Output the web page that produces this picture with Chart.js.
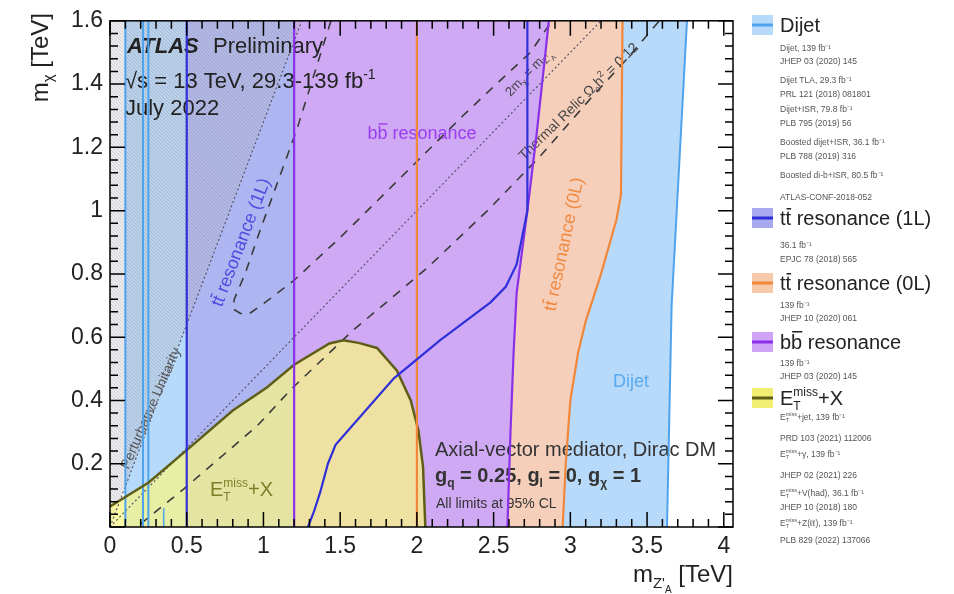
<!DOCTYPE html>
<html>
<head>
<meta charset="utf-8">
<script src="https://cdn.jsdelivr.net/npm/chart.js@4.4.0/dist/chart.umd.min.js"></script>
<style>
  body { margin: 0; background: #fff; }
  #wrap { width: 954px; height: 594px; position: relative; }
</style>
</head>
<body>
<div id="wrap"><canvas id="chart"></canvas></div>
<script>
// Ejes
const xTicks = [0, 0.5, 1, 1.5, 2, 2.5, 3, 3.5, 4];
const yTicks = [0.2, 0.4, 0.6, 0.8, 1, 1.2, 1.4, 1.6];

// Límites de exclusión [m_Z', m_chi] en TeV
const dijetLine1 = [[0.1, 0], [0.1, 1.6]];
const dijetLine2 = [[0.215, 0], [0.215, 1.6]];
const dijetLine3 = [[0.25, 0], [0.25, 1.6]];
const dijetSpike = [[0.35, 0], [0.35, 0.06]];
const dijetHigh = [[3.63, 0], [3.66, 0.7], [3.76, 1.6]];

const tt1LLow = [[0.5, 0], [0.5, 1.6]];
const tt1LHigh = [[1.29, 0], [1.33, 0.05], [1.37, 0.11], [1.42, 0.2], [1.47, 0.26], [1.56, 0.31],
  [1.85, 0.47], [2.15, 0.59], [2.48, 0.71], [2.58, 0.76], [2.65, 0.83], [2.72, 1.0], [2.72, 1.6]];

const tt0LLow = [[2.0, 0], [2.0, 1.6]];
const tt0LHigh = [[2.95, 0], [2.97, 0.2], [3.0, 0.4], [3.05, 0.55], [3.1, 0.65], [3.2, 0.8],
  [3.3, 0.97], [3.33, 1.05], [3.34, 1.6]];

const bbLow = [[1.2, 0], [1.2, 1.6]];
const bbHigh = [[2.59, 0], [2.61, 0.3], [2.63, 0.55], [2.65, 0.74], [2.72, 1.0], [2.78, 1.24], [2.86, 1.6]];

const metCurve = [[0, 0.065], [0.1, 0.095], [0.25, 0.14], [0.5, 0.243], [0.8, 0.368], [1.02, 0.44],
  [1.2, 0.513], [1.43, 0.58], [1.52, 0.59], [1.62, 0.582], [1.74, 0.566], [1.87, 0.494],
  [1.96, 0.4], [2.01, 0.305], [2.04, 0.19], [2.055, 0]];

// Líneas de referencia
const unitarityLine = [[0, 0], [1.25, 1.6]];
const diagonalLine = [[0, 0], [3.2, 1.6]];
const relicLow = [[0.2, 0.01], [0.48, 0.12], [0.72, 0.22], [0.96, 0.32], [1.19, 0.44], [1.58, 0.62],
  [2.07, 0.82], [2.46, 1.0], [2.8, 1.17], [3.16, 1.37], [3.37, 1.48], [3.58, 1.6]];
const relicHigh = [[1.44, 1.6], [1.32, 1.415], [1.22, 1.26], [1.1, 1.1], [0.98, 0.94], [0.88, 0.8],
  [0.81, 0.72], [0.8, 0.69], [0.85, 0.675], [0.91, 0.675], [1.04, 0.72], [1.2, 0.78], [1.5, 0.915],
  [1.74, 1.03], [2.02, 1.165], [2.3, 1.3], [2.54, 1.41], [2.74, 1.5], [2.88, 1.6]];

// Regiones rellenas construidas a partir de los bordes
const dijetRegion = [[0.1, 0], [0.1, 1.6], ...dijetHigh.slice().reverse()];
const tt1LRegion = [[0.5, 0], [0.5, 1.6], ...tt1LHigh.slice().reverse()];
const tt0LRegion = [[2.0, 0], [2.0, 1.6], ...tt0LHigh.slice().reverse()];
const bbRegion = [[1.2, 0], [1.2, 1.6], ...bbHigh.slice().reverse()];
const metRegion = [[0, 0], ...metCurve];
const unitarityRegion = [[0, 0], [1.25, 1.6], [0, 1.6]];

const FONT = '"Liberation Sans", Arial, Helvetica, sans-serif';

function seg(t, size, o) {
  o = o || {};
  return { t, size, font: `${o.italic ? 'italic ' : ''}${o.bold ? 'bold ' : ''}${size}px ${FONT}`,
    dy: o.dy || 0, bar: o.bar, stack: o.stack };
}

// texto con sub/superíndices y barra
function richText(ctx, segs, x, y, align) {
  let total = 0, pend = 0;
  segs.forEach(s => { ctx.font = s.font; s.w = ctx.measureText(s.t).width; });
  for (const s of segs) {
    if (s.stack) pend = s.w; else { total += Math.max(s.w, pend); pend = 0; }
  }
  total += pend;
  let cx = align === 'center' ? x - total / 2 : align === 'right' ? x - total : x;
  ctx.textAlign = 'left';
  ctx.textBaseline = 'alphabetic';
  pend = 0;
  for (const s of segs) {
    ctx.font = s.font;
    const yy = y + s.dy;
    ctx.fillText(s.t, cx, yy);
    if (s.bar) {
      const m = ctx.measureText(s.t);
      ctx.fillRect(cx + 1, yy - m.actualBoundingBoxAscent - s.size * 0.15, s.w - 1, Math.max(1, s.size / 13));
    }
    if (s.stack) pend = s.w; else { cx += Math.max(s.w, pend); pend = 0; }
  }
}

function rotLabel(ctx, segs, cx, cy, deg, color) {
  ctx.save();
  ctx.translate(cx, cy);
  ctx.rotate(-deg * Math.PI / 180);
  ctx.fillStyle = color;
  richText(ctx, segs, 0, segs[0].size * 0.36, 'center');
  ctx.restore();
}

const regionsPlugin = {
  id: 'regions',
  beforeDatasetsDraw(chart) {
    const { ctx, chartArea: a, scales: { x, y } } = chart;
    const path = pts => {
      ctx.beginPath();
      pts.forEach(([vx, vy], i) => {
        const px = x.getPixelForValue(vx), py = y.getPixelForValue(vy);
        i ? ctx.lineTo(px, py) : ctx.moveTo(px, py);
      });
      ctx.closePath();
    };
    const poly = (pts, color) => { path(pts); ctx.fillStyle = color; ctx.fill(); };

    ctx.save();
    ctx.beginPath(); ctx.rect(a.left, a.top, a.width, a.height); ctx.clip();
    poly(dijetRegion, '#b8dafa');
    poly(tt1LRegion, '#aeb6f2');
    poly(tt0LRegion, '#f6cfbb');
    poly(bbRegion, '#cfa9f4');

    // región de unitaridad: gris rayado
    ctx.save();
    path(unitarityRegion);
    ctx.clip();
    ctx.fillStyle = 'rgba(195,195,205,0.3)';
    ctx.fillRect(a.left, a.top, a.width, a.height);
    ctx.strokeStyle = 'rgba(80,80,100,0.2)';
    ctx.lineWidth = 1;
    ctx.beginPath();
    for (let k = -a.height; k < a.width; k += 3.5) {
      ctx.moveTo(a.left + k, a.top);
      ctx.lineTo(a.left + k + a.height, a.bottom);
    }
    ctx.stroke();
    ctx.restore();

    poly(metRegion, 'rgba(250,247,130,0.72)');

    // textos dentro del gráfico (debajo de las líneas)
    ctx.fillStyle = '#222';
    richText(ctx, [seg('ATLAS', 22, { bold: true, italic: true })], 127, 53, 'left');
    richText(ctx, [seg('Preliminary', 22)], 213, 53, 'left');
    richText(ctx, [seg('\u221As = 13 TeV, 29.3-139 fb', 22), seg('-1', 14, { dy: -9 })], 125, 88, 'left');
    richText(ctx, [seg('July 2022', 22)], 125, 115, 'left');

    ctx.fillStyle = '#9a3ef0';
    richText(ctx, [seg('b', 18), seg('b', 18, { bar: true }), seg(' resonance', 18)], 422, 139, 'center');
    ctx.fillStyle = '#5aaaf0';
    richText(ctx, [seg('Dijet', 18)], 631, 387, 'center');
    ctx.fillStyle = '#7f7f2a';
    richText(ctx, [seg('E', 20), seg('T', 12, { dy: 5, stack: true }), seg('miss', 12, { dy: -9 }), seg('+X', 20)], 210, 496, 'left');

    rotLabel(ctx, [seg('t', 18), seg('t', 18, { bar: true }), seg(' resonance (1L)', 18)], 240, 242, 69, '#4b4be0');
    rotLabel(ctx, [seg('t', 18), seg('t', 18, { bar: true }), seg(' resonance (0L)', 18)], 563, 244, 78, '#f08a40');
    rotLabel(ctx, [seg('Perturbative Unitarity', 14)], 150, 408, 66.5, '#555');
    rotLabel(ctx, [seg('2m', 13), seg('\u03C7', 9, { dy: 3 }), seg(' = m', 13), seg("Z'", 9, { dy: 3 }), seg('A', 7, { dy: 6 })], 528, 72, 46, '#444');
    rotLabel(ctx, [seg('Thermal Relic \u03A9', 14), seg('c', 9, { dy: 3 }), seg('h', 14), seg('2', 9, { dy: -6 }), seg(' = 0.12', 14)], 578, 101, 44.4, '#444');

    ctx.fillStyle = '#333';
    richText(ctx, [seg('Axial-vector mediator, Dirac DM', 20)], 435, 456, 'left');
    richText(ctx, [seg('g', 20, { bold: true }), seg('q', 12, { bold: true, dy: 5 }), seg(' = 0.25, g', 20, { bold: true }),
      seg('l', 12, { bold: true, dy: 5 }), seg(' = 0, g', 20, { bold: true }), seg('\u03C7', 12, { bold: true, dy: 5 }),
      seg(' = 1', 20, { bold: true })], 435, 482, 'left');
    richText(ctx, [seg('All limits at 95% CL', 14)], 436, 508, 'left');
    ctx.restore();
  }
};

const framePlugin = {
  id: 'frame',
  afterDraw(chart) {
    const { ctx, chartArea: a, scales: { x, y } } = chart;
    ctx.save();
    ctx.strokeStyle = '#000';
    ctx.lineWidth = 1.5;
    ctx.beginPath();
    for (let i = 0; i * 0.1 <= x.max + 1e-9; i++) {
      const px = x.getPixelForValue(i * 0.1);
      const len = i % 5 === 0 ? 15 : 8;
      ctx.moveTo(px, a.bottom); ctx.lineTo(px, a.bottom - len);
      ctx.moveTo(px, a.top); ctx.lineTo(px, a.top + len);
    }
    for (let i = 0; i <= 40; i++) {
      const py = y.getPixelForValue(i * 0.04);
      const len = i % 5 === 0 ? 15 : 8;
      ctx.moveTo(a.left, py); ctx.lineTo(a.left + len, py);
      ctx.moveTo(a.right, py); ctx.lineTo(a.right - len, py);
    }
    ctx.stroke();
    ctx.strokeRect(a.left, a.top, a.width, a.height);

    // títulos de ejes
    ctx.fillStyle = '#222';
    richText(ctx, [seg('m', 24), seg("Z'", 15, { dy: 6 }), seg('A', 10, { dy: 11 }), seg(' [TeV]', 24)], 733, 582, 'right');
    ctx.save();
    ctx.translate(48, 13);
    ctx.rotate(-Math.PI / 2);
    richText(ctx, [seg('m', 24), seg('\u03C7', 15, { dy: 5 }), seg(' [TeV]', 24)], 0, 0, 'right');
    ctx.restore();

    // leyenda
    const swatch = (cy, fillC, lineC) => {
      ctx.fillStyle = fillC;
      ctx.fillRect(752, cy - 10, 21, 20);
      ctx.fillStyle = lineC;
      ctx.fillRect(752, cy - 1.5, 21, 3);
    };
    const small = (txt, cy) => {
      ctx.fillStyle = '#555';
      richText(ctx, typeof txt === 'string' ? [seg(txt, 8.5)] : txt, 780, cy + 3, 'left');
    };
    const metSmall = rest => [seg('E', 8.5), seg('T', 5.5, { dy: 2, stack: true }), seg('miss', 5.5, { dy: -4 }), seg(rest, 8.5)];

    swatch(25, '#b8dafa', '#4fa3ec');
    ctx.fillStyle = '#222';
    richText(ctx, [seg('Dijet', 20)], 780, 32, 'left');
    small('Dijet, 139 fb\u207B\u00B9', 48);
    small('JHEP 03 (2020) 145', 61);
    small('Dijet TLA, 29.3 fb\u207B\u00B9', 80);
    small('PRL 121 (2018) 081801', 94);
    small('Dijet+ISR, 79.8 fb\u207B\u00B9', 109);
    small('PLB 795 (2019) 56', 123);
    small('Boosted dijet+ISR, 36.1 fb\u207B\u00B9', 142);
    small('PLB 788 (2019) 316', 156);
    small('Boosted di-b+ISR, 80.5 fb\u207B\u00B9', 175);
    small('ATLAS-CONF-2018-052', 197);

    swatch(218, '#a9a9f0', '#2e2ed6');
    ctx.fillStyle = '#222';
    richText(ctx, [seg('t', 20), seg('t', 20, { bar: true }), seg(' resonance (1L)', 20)], 780, 225, 'left');
    small('36.1 fb\u207B\u00B9', 245);
    small('EPJC 78 (2018) 565', 259);

    swatch(283, '#f6c9aa', '#f0873a');
    ctx.fillStyle = '#222';
    richText(ctx, [seg('t', 20), seg('t', 20, { bar: true }), seg(' resonance (0L)', 20)], 780, 290, 'left');
    small('139 fb\u207B\u00B9', 305);
    small('JHEP 10 (2020) 061', 318);

    swatch(342, '#cfa3f6', '#8a30e8');
    ctx.fillStyle = '#222';
    richText(ctx, [seg('b', 20), seg('b', 20, { bar: true }), seg(' resonance', 20)], 780, 349, 'left');
    small('139 fb\u207B\u00B9', 363);
    small('JHEP 03 (2020) 145', 376);

    swatch(398, '#f2ee74', '#5e5e18');
    ctx.fillStyle = '#222';
    richText(ctx, [seg('E', 20), seg('T', 12, { dy: 5, stack: true }), seg('miss', 12, { dy: -9 }), seg('+X', 20)], 780, 405, 'left');
    small(metSmall('+jet, 139 fb\u207B\u00B9'), 417);
    small('PRD 103 (2021) 112006', 438);
    small(metSmall('+\u03B3, 139 fb\u207B\u00B9'), 454);
    small('JHEP 02 (2021) 226', 475);
    small(metSmall('+V(had), 36.1 fb\u207B\u00B9'), 493);
    small('JHEP 10 (2018) 180', 507);
    small(metSmall('+Z(\u2113\u2113), 139 fb\u207B\u00B9'), 523);
    small('PLB 829 (2022) 137066', 540);
    ctx.restore();
  }
};

const toPts = arr => arr.map(([x, y]) => ({ x, y }));
function lineSet(arr, color, width, dash) {
  return { data: toPts(arr), showLine: true, borderColor: color, borderWidth: width,
    borderDash: dash || [], pointRadius: 0, fill: false, tension: 0 };
}

const fmt = v => String(Math.round(v * 10) / 10);

new Chart(document.getElementById('chart'), {
  type: 'scatter',
  data: {
    datasets: [
      // el primero queda encima
      lineSet(tt1LHigh, '#3030d8', 2.2),
      lineSet(tt1LLow, '#3030d8', 2.2),
      lineSet(bbHigh, '#8a30e8', 2.2),
      lineSet(bbLow, '#8a30e8', 2.2),
      lineSet(tt0LHigh, '#f0873a', 2.2),
      lineSet(tt0LLow, '#f0873a', 2.2),
      lineSet(metCurve, '#5e5e18', 2.5),
      lineSet(dijetHigh, '#4fa3ec', 2),
      lineSet(dijetLine1, '#4fa3ec', 2),
      lineSet(dijetLine2, '#4fa3ec', 2),
      lineSet(dijetLine3, '#4fa3ec', 2),
      lineSet(dijetSpike, '#4fa3ec', 1.5),
      lineSet(relicLow, '#3a3a3a', 1.6, [9, 8]),
      lineSet(relicHigh, '#3a3a3a', 1.6, [9, 8]),
      lineSet(diagonalLine, '#55556a', 1.2, [2, 2.5]),
      lineSet(unitarityLine, '#55556a', 1.2, [2, 2.5])
    ]
  },
  options: {
    responsive: true,
    maintainAspectRatio: false,
    animation: false,
    layout: { padding: { left: 0, right: 221, top: 18, bottom: 0 } },
    plugins: { legend: { display: false }, tooltip: { enabled: false } },
    scales: {
      x: {
        type: 'linear', min: 0, max: 4.06,
        grid: { display: false, drawTicks: false },
        border: { display: false },
        afterBuildTicks: s => { s.ticks = xTicks.map(v => ({ value: v })); },
        afterFit: s => { s.height = 67; },
        ticks: { font: { family: FONT, size: 23 }, color: '#222', padding: 6, maxRotation: 0, autoSkip: false, callback: fmt }
      },
      y: {
        type: 'linear', min: 0, max: 1.6,
        grid: { display: false, drawTicks: false },
        border: { display: false },
        afterBuildTicks: s => { s.ticks = yTicks.map(v => ({ value: v })); },
        afterFit: s => { s.width = 110; },
        ticks: { font: { family: FONT, size: 23 }, color: '#222', padding: 7, autoSkip: false, callback: fmt }
      }
    }
  },
  plugins: [regionsPlugin, framePlugin]
});
</script>
</body>
</html>
